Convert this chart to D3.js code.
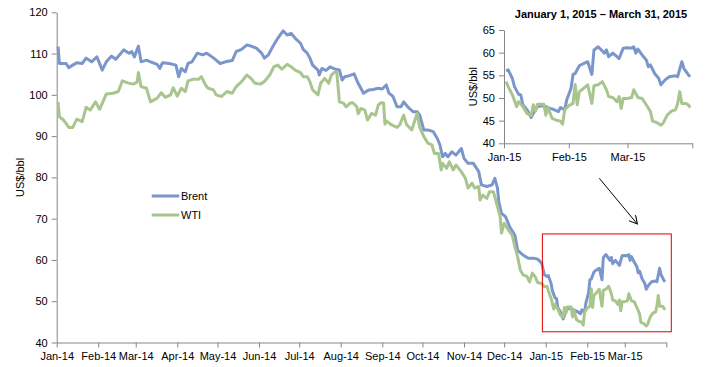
<!DOCTYPE html>
<html><head><meta charset="utf-8">
<script src="https://cdn.jsdelivr.net/npm/d3@7"></script>
<style>
html,body{margin:0;padding:0;background:#fff;}
svg{display:block;font-family:"Liberation Sans",Arial,sans-serif;}
</style></head>
<body><svg id="c" width="707" height="367"></svg>
<script>
const brent = [
["2014-01-02",111.7],["2014-01-03",107.6],["2014-01-06",107.6],["2014-01-08",107.6],["2014-01-10",106.6],["2014-01-13",107.2],["2014-01-16",107.8],["2014-01-20",107.6],["2014-01-23",108.9],["2014-01-27",108.0],["2014-01-31",109.2],["2014-02-04",106.0],["2014-02-07",108.0],["2014-02-11",109.4],["2014-02-14",108.6],["2014-02-18",110.1],["2014-02-20",110.9],["2014-02-24",110.1],["2014-02-26",110.5],["2014-02-28",109.2],["2014-03-03",111.8],["2014-03-05",108.0],["2014-03-09",108.4],["2014-03-12",108.0],["2014-03-17",107.4],["2014-03-19",106.4],["2014-03-21",107.8],["2014-03-26",107.6],["2014-03-31",107.2],["2014-04-02",104.4],["2014-04-04",106.4],["2014-04-07",105.6],["2014-04-09",107.6],["2014-04-12",108.0],["2014-04-16",110.1],["2014-04-20",109.7],["2014-04-23",110.1],["2014-04-27",109.2],["2014-04-30",108.4],["2014-05-03",107.6],["2014-05-07",108.0],["2014-05-12",108.3],["2014-05-15",110.5],["2014-05-19",111.0],["2014-05-23",112.1],["2014-05-27",111.7],["2014-05-30",111.3],["2014-06-03",110.1],["2014-06-05",108.9],["2014-06-08",109.7],["2014-06-12",112.1],["2014-06-15",113.7],["2014-06-19",115.5],["2014-06-22",114.5],["2014-06-25",114.9],["2014-06-28",113.7],["2014-07-02",112.5],["2014-07-04",111.0],["2014-07-07",110.1],["2014-07-09",108.9],["2014-07-11",107.2],["2014-07-15",106.0],["2014-07-16",104.8],["2014-07-18",106.4],["2014-07-21",105.9],["2014-07-24",106.8],["2014-07-28",106.2],["2014-07-31",106.0],["2014-08-02",103.6],["2014-08-04",104.4],["2014-08-07",104.6],["2014-08-11",105.1],["2014-08-14",102.8],["2014-08-18",100.4],["2014-08-22",101.2],["2014-08-25",101.3],["2014-08-29",101.6],["2014-09-01",101.4],["2014-09-04",102.4],["2014-09-06",100.4],["2014-09-09",99.6],["2014-09-12",97.1],["2014-09-15",97.1],["2014-09-17",98.3],["2014-09-20",97.1],["2014-09-24",95.9],["2014-09-27",95.9],["2014-09-29",95.1],["2014-09-30",93.9],["2014-10-02",91.5],["2014-10-05",91.5],["2014-10-09",91.1],["2014-10-12",89.5],["2014-10-14",87.9],["2014-10-16",85.0],["2014-10-18",85.8],["2014-10-20",85.0],["2014-10-23",86.2],["2014-10-26",85.4],["2014-10-30",87.0],["2014-11-01",84.6],["2014-11-04",83.4],["2014-11-08",83.4],["2014-11-12",81.4],["2014-11-14",78.2],["2014-11-18",77.8],["2014-11-22",78.2],["2014-11-24",79.8],["2014-11-26",77.4],["2014-11-27",74.1],["2014-11-29",71.3],["2014-12-02",70.5],["2014-12-05",68.1],["2014-12-09",66.0],["2014-12-11",62.4],["2014-12-15",61.2],["2014-12-19",60.4],["2014-12-23",60.4],["2014-12-26",60.2],["2014-12-29",59.2],["2014-12-31",56.4],
["2015-01-02",56.0],["2015-01-03",56.2],["2015-01-05",54.3],["2015-01-06",52.5],["2015-01-08",50.8],["2015-01-09",50.7],["2015-01-10",48.5],["2015-01-12",47.4],["2015-01-14",45.7],["2015-01-15",46.6],["2015-01-17",48.1],["2015-01-19",48.3],["2015-01-21",48.1],["2015-01-23",47.7],["2015-01-24",47.6],["2015-01-27",47.0],["2015-01-28",47.9],["2015-01-30",47.4],["2015-01-31",49.6],["2015-02-02",52.1],["2015-02-03",55.2],["2015-02-04",55.4],["2015-02-06",57.1],["2015-02-08",57.6],["2015-02-10",58.0],["2015-02-12",55.2],["2015-02-13",60.6],["2015-02-15",61.3],["2015-02-18",59.9],["2015-02-19",60.6],["2015-02-20",59.1],["2015-02-22",59.9],["2015-02-24",59.1],["2015-02-25",58.7],["2015-02-27",61.0],["2015-03-01",61.1],["2015-03-03",61.0],["2015-03-04",61.3],["2015-03-05",59.9],["2015-03-06",60.8],["2015-03-08",59.5],["2015-03-10",58.4],["2015-03-11",56.9],["2015-03-12",57.3],["2015-03-14",55.4],["2015-03-16",54.3],["2015-03-17",52.9],["2015-03-19",54.0],["2015-03-21",54.7],["2015-03-24",54.9],["2015-03-25",54.7],["2015-03-27",58.0],["2015-03-28",56.5],["2015-03-30",55.2],["2015-03-31",54.7]
];
const wti = [
["2014-01-02",98.3],["2014-01-03",94.7],["2014-01-06",93.9],["2014-01-08",93.1],["2014-01-10",92.1],["2014-01-13",92.1],["2014-01-16",94.1],["2014-01-20",93.5],["2014-01-23",97.0],["2014-01-26",96.3],["2014-01-30",98.3],["2014-02-02",96.5],["2014-02-07",100.2],["2014-02-12",100.4],["2014-02-16",100.8],["2014-02-19",103.4],["2014-02-23",102.9],["2014-02-27",102.6],["2014-03-02",103.1],["2014-03-03",105.4],["2014-03-05",102.0],["2014-03-09",101.6],["2014-03-12",98.3],["2014-03-17",99.2],["2014-03-20",100.5],["2014-03-23",99.4],["2014-03-27",100.0],["2014-03-29",101.7],["2014-04-01",99.7],["2014-04-04",101.6],["2014-04-07",100.8],["2014-04-09",103.4],["2014-04-13",103.8],["2014-04-17",103.8],["2014-04-19",104.4],["2014-04-22",102.4],["2014-04-24",101.6],["2014-04-28",101.2],["2014-04-30",100.0],["2014-05-04",99.6],["2014-05-08",100.8],["2014-05-12",100.4],["2014-05-15",102.0],["2014-05-19",103.2],["2014-05-23",104.8],["2014-05-26",104.0],["2014-05-29",102.8],["2014-06-02",102.6],["2014-06-05",103.2],["2014-06-09",104.8],["2014-06-12",106.8],["2014-06-15",107.2],["2014-06-18",106.2],["2014-06-22",107.4],["2014-06-25",106.8],["2014-06-28",106.0],["2014-07-02",105.4],["2014-07-04",104.4],["2014-07-07",104.4],["2014-07-09",103.2],["2014-07-11",101.2],["2014-07-15",100.0],["2014-07-17",102.8],["2014-07-20",104.0],["2014-07-23",102.8],["2014-07-25",104.8],["2014-07-27",105.4],["2014-07-29",105.6],["2014-07-30",102.0],["2014-07-31",98.3],["2014-08-03",98.0],["2014-08-05",97.1],["2014-08-08",98.0],["2014-08-10",98.1],["2014-08-13",97.1],["2014-08-14",95.4],["2014-08-16",96.7],["2014-08-19",96.3],["2014-08-21",93.9],["2014-08-24",95.5],["2014-08-27",95.1],["2014-08-29",97.5],["2014-08-31",98.1],["2014-09-02",98.0],["2014-09-03",92.9],["2014-09-04",93.7],["2014-09-08",92.7],["2014-09-12",92.1],["2014-09-14",92.7],["2014-09-17",95.1],["2014-09-19",92.9],["2014-09-23",91.5],["2014-09-25",93.5],["2014-09-27",95.5],["2014-09-29",92.1],["2014-10-02",89.9],["2014-10-05",88.3],["2014-10-08",87.9],["2014-10-10",85.8],["2014-10-13",85.8],["2014-10-15",81.8],["2014-10-16",83.4],["2014-10-19",82.2],["2014-10-21",83.8],["2014-10-24",81.8],["2014-10-26",83.0],["2014-10-30",81.4],["2014-11-02",79.8],["2014-11-04",77.4],["2014-11-07",78.6],["2014-11-09",77.4],["2014-11-12",77.8],["2014-11-13",74.5],["2014-11-15",75.7],["2014-11-18",74.9],["2014-11-20",76.5],["2014-11-23",76.5],["2014-11-25",74.1],["2014-11-28",70.5],["2014-11-29",66.5],["2014-12-01",68.9],["2014-12-04",67.3],["2014-12-07",66.0],["2014-12-09",63.2],["2014-12-11",60.8],["2014-12-13",57.6],["2014-12-15",56.4],["2014-12-18",56.0],["2014-12-20",54.7],["2014-12-22",56.8],["2014-12-24",56.0],["2014-12-26",54.5],["2014-12-29",54.3],["2014-12-31",53.5],
["2015-01-02",53.6],["2015-01-03",52.5],["2015-01-05",50.7],["2015-01-07",48.1],["2015-01-08",49.2],["2015-01-10",48.1],["2015-01-12",46.6],["2015-01-14",46.1],["2015-01-15",48.5],["2015-01-16",47.1],["2015-01-17",48.6],["2015-01-20",48.6],["2015-01-21",46.2],["2015-01-22",47.9],["2015-01-24",45.5],["2015-01-26",45.1],["2015-01-28",44.9],["2015-01-29",44.2],["2015-01-30",47.4],["2015-02-01",48.3],["2015-02-03",48.8],["2015-02-04",53.0],["2015-02-05",48.5],["2015-02-06",51.4],["2015-02-08",52.1],["2015-02-10",52.9],["2015-02-12",48.8],["2015-02-13",52.7],["2015-02-15",52.9],["2015-02-17",53.6],["2015-02-19",51.8],["2015-02-20",50.3],["2015-02-22",50.1],["2015-02-24",49.2],["2015-02-25",50.3],["2015-02-26",47.7],["2015-02-27",49.9],["2015-03-01",49.9],["2015-03-03",50.1],["2015-03-04",51.8],["2015-03-06",50.1],["2015-03-08",49.9],["2015-03-10",48.5],["2015-03-12",47.0],["2015-03-13",44.9],["2015-03-15",44.6],["2015-03-17",44.0],["2015-03-18",44.4],["2015-03-20",46.2],["2015-03-22",47.1],["2015-03-24",47.4],["2015-03-25",48.8],["2015-03-26",51.4],["2015-03-27",48.8],["2015-03-29",48.8],["2015-03-30",48.5],["2015-03-31",47.9]
];
const seriesNames = ["Brent","WTI"];
const seriesColors = ["#7b96ca","#a8c58e"];
const mainYTicks = [40,50,60,70,80,90,100,110,120];
const insetYTicks = [40,45,50,55,60,65];
const mainXTicks = ["2014-01-01","2014-02-01","2014-03-01","2014-04-01","2014-05-01","2014-06-01","2014-07-01","2014-08-01","2014-09-01","2014-10-01","2014-11-01","2014-12-01","2015-01-01","2015-02-01","2015-03-01","2015-04-01"];
const insetXTicks = ["2015-01-01","2015-02-01","2015-03-01","2015-04-01"];
const yLabel = "US$/bbl";
const insetTitle = "January 1, 2015 \u2013 March 31, 2015";

const parse = d3.timeParse("%Y-%m-%d");
const fmt = d3.timeFormat("%b-%y");
const data = [brent, wti].map(s => s.map(([d,v]) => ({date: parse(d), value: v})));
const svg = d3.select("#c");
const FONT = 11;

function styleAxis(g){
  g.selectAll(".domain").attr("stroke","#868686");
  g.selectAll(".tick line").attr("stroke","#868686");
  g.selectAll(".tick text").attr("fill","#000").attr("font-size",FONT).attr("font-family","Liberation Sans, Arial, sans-serif");
}

// ---- main chart
const x = d3.scaleTime().domain([parse("2014-01-01"), parse("2015-04-01")]).range([56.7, 666.3]);
const y = d3.scaleLinear().domain([40,120]).range([342.5, 12.3]);
const mxt = mainXTicks.map(parse);
const gx = svg.append("g").attr("transform",`translate(0,${y(40)})`)
  .call(d3.axisBottom(x).tickValues(mxt).tickSize(5).tickSizeOuter(0).tickPadding(5)
    .tickFormat((d,i) => i === mxt.length-1 ? "" : fmt(d)));
styleAxis(gx);
const gy = svg.append("g").attr("transform",`translate(${x.range()[0]},0)`)
  .call(d3.axisLeft(y).tickValues(mainYTicks).tickSize(5).tickSizeOuter(0).tickPadding(4));
styleAxis(gy);
svg.append("text").attr("transform",`translate(24,${(y(40)+y(120))/2}) rotate(-90)`)
  .attr("text-anchor","middle").attr("font-size",FONT).text(yLabel);

const line = d3.line().x(d => x(d.date)).y(d => y(d.value));
data.forEach((s,i) => {
  svg.append("path").datum(s).attr("d", line).attr("fill","none")
    .attr("stroke", seriesColors[i]).attr("stroke-width",3).attr("stroke-linejoin","round");
});

// legend
seriesNames.forEach((n,i) => {
  const ly = 196 + i*19;
  svg.append("line").attr("x1",151.7).attr("x2",179.3).attr("y1",ly).attr("y2",ly)
    .attr("stroke",seriesColors[i]).attr("stroke-width",3);
  svg.append("text").attr("x",181).attr("y",ly+4).attr("font-size",FONT).text(n);
});

// highlight box & arrow
const boxX0 = x(parse("2014-12-31")) - 2, boxX1 = x(parse("2015-04-01")) + 5;
svg.append("rect").attr("x", boxX0).attr("y", y(66.3)).attr("width", boxX1-boxX0)
  .attr("height", y(42.6)-y(66.3)).attr("fill","none").attr("stroke","#e00000").attr("stroke-width",1);
svg.append("defs").append("marker").attr("id","ah").attr("viewBox","0 0 10 10")
  .attr("refX",9).attr("refY",5).attr("markerWidth",9).attr("markerHeight",9).attr("orient","auto")
  .append("path").attr("d","M0,0L9,5L0,10").attr("fill","none").attr("stroke","#000").attr("stroke-width",1.2);
svg.append("line").attr("x1",599.3).attr("y1",178.3).attr("x2",637.3).attr("y2",224)
  .attr("stroke","#000").attr("stroke-width",1).attr("marker-end","url(#ah)");

// ---- inset
const xi = d3.scaleTime().domain([parse("2015-01-01"), parse("2015-04-01")]).range([504, 692.3]);
const yi = d3.scaleLinear().domain([40,65]).range([143.3, 30]);
const ixt = insetXTicks.map(parse);
const inset = data.map(s => s.filter(d => d.date >= parse("2015-01-01")));
const gxi = svg.append("g").attr("transform",`translate(0,${yi(40)})`)
  .call(d3.axisBottom(xi).tickValues(ixt).tickSize(5).tickSizeOuter(0).tickPadding(5)
    .tickFormat((d,i) => i === ixt.length-1 ? "" : fmt(d)));
styleAxis(gxi);
const gyi = svg.append("g").attr("transform",`translate(${xi.range()[0]},0)`)
  .call(d3.axisLeft(yi).tickValues(insetYTicks).tickSize(5).tickSizeOuter(0).tickPadding(4));
styleAxis(gyi);
svg.append("text").attr("transform",`translate(477,${(yi(40)+yi(65))/2}) rotate(-90)`)
  .attr("text-anchor","middle").attr("font-size",FONT).text(yLabel);
svg.append("text").attr("x",601).attr("y",18).attr("text-anchor","middle")
  .attr("font-size",FONT).attr("font-weight","bold").text(insetTitle);
const linei = d3.line().x(d => xi(d.date)).y(d => yi(d.value));
inset.forEach((s,i) => {
  svg.append("path").datum(s).attr("d", linei).attr("fill","none")
    .attr("stroke", seriesColors[i]).attr("stroke-width",3).attr("stroke-linejoin","round");
});
</script></body></html>
